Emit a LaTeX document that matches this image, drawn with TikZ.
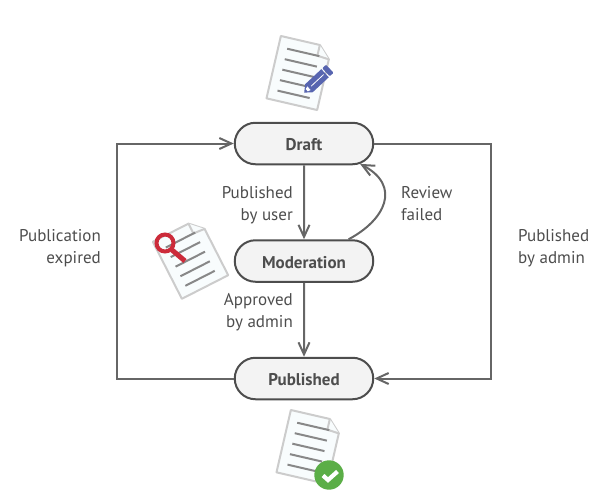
\documentclass[tikz,border=0pt]{standalone}
\usepackage{fontspec}
\setmainfont{PT Sans}
\usetikzlibrary{arrows.meta,shapes.misc}

\definecolor{inkgray}{HTML}{4D4D4D}
\definecolor{linegray}{HTML}{666666}
\definecolor{boxfill}{HTML}{F3F3F3}
\definecolor{paperfill}{HTML}{F8FCFD}
\definecolor{paperedge}{HTML}{CCCCCC}
\definecolor{rulegray}{HTML}{888888}
\definecolor{penblue}{HTML}{5765B0}
\definecolor{lensred}{HTML}{CC2B3A}
\definecolor{okgreen}{HTML}{5BAE47}

\tikzset{
	state/.style={
		rounded rectangle, draw=inkgray, fill=boxfill, line width=2pt,
		minimum width=138.5pt, minimum height=41.5pt, inner sep=0pt,
		text height=14pt, text depth=0pt,
		text=inkgray, font=\fontsize{17}{20}\selectfont\bfseries
	},
	conn/.style={draw=linegray, line width=2pt, >={Straight Barb[length=12pt,width=11pt,line width=2pt]}},
	lbl/.style={text=inkgray, inner sep=0pt, font=\fontsize{17}{22}\selectfont},
	paper/.pic={
		\draw [paperedge, fill=paperfill, line width=2pt, line join=round]
			(-26,-32) -- (14,-32) -- (26,-20) -- (26,32) -- (-26,32) -- cycle; % sheet
		\draw [paperedge, fill=paperfill, line width=2pt, line join=round]
			(14,-32) -- (14,-21) -- (26,-20);
		\foreach \y in {-21, -10.25, 0.5, 11.25, 22}
			\draw [rulegray, line width=2pt] (-17,\y) -- (16,\y);
	}
}

\begin{document}
\begin{tikzpicture}[x=1pt, y=-1pt]
	\useasboundingbox (0,0) rectangle (604,499);

	\node [state] (Draft) at (304,143.5) {Draft};
	\node [state] (Moderation) at (304,261) {Moderation};
	\node [state] (Published) at (304,378.5) {Published};

	\coordinate (turnLeft) at (117,261);
	\coordinate (turnRight) at (491,261);

	\draw [conn,->] (Draft) -- (Moderation);
	\draw [conn,->] (Moderation) -- (Published);
	\draw [conn,->] (Published.west) -| (turnLeft) |- (Draft.west);
	\draw [conn,->] (Draft.east) -| (turnRight) |- (Published.east);
	\draw [conn,->] (Moderation.26) .. controls (385,220) and (402,186) .. (Draft.-20);

	\node [lbl, align=right, anchor=east] (byUser) at (293,205) {Published\\by user};
	\node [lbl, align=left, anchor=west] (failed) at (401,204) {Review\\failed};
	\node [lbl, align=right, anchor=east] (byAdminMid) at (293,312) {Approved\\by admin};
	\node [lbl, align=right, anchor=east] (expired) at (101,248) {Publication\\expired};
	\node [lbl, align=left, anchor=west] (byAdminSide) at (518,248) {Published\\by admin};

	% draft sheet with pen
	\pic [rotate=-13] at (299,73) {paper};
	\begin{scope}[shift={(317,80.7)}, rotate=43]
		\fill [penblue] (-17.5,0) -- (-11,-5.5) -- (11,-5.5) -- (11,5.5) -- (-11,5.5) -- cycle;
		\fill [penblue, rounded corners=1pt] (12.3,-5.5) -- (17.5,-5.5) -- (17.5,5.5) -- (12.3,5.5) -- cycle;
		\draw [white, line width=0.8pt] (-8,0) -- (9,0);
		\fill [white] (-14,-1.5) -- (-11,-2.5) -- (-11,2.5) -- (-14,1.5) -- cycle;
	\end{scope}

	% moderation sheet with lens
	\pic [rotate=27] at (190.5,258.5) {paper};
	\draw [lensred, line width=4pt] (165,243) circle (8.5);
	\draw [lensred, line width=5pt] (172,250) -- (185,261);

	% published sheet with tick
	\pic [rotate=-13] at (309,447) {paper};
	\fill [okgreen] (329,475) circle (14.7);
	\draw [white, line width=4.2pt] (323,475.5) -- (328,480) -- (337.5,471.5);
\end{tikzpicture}
\end{document}
